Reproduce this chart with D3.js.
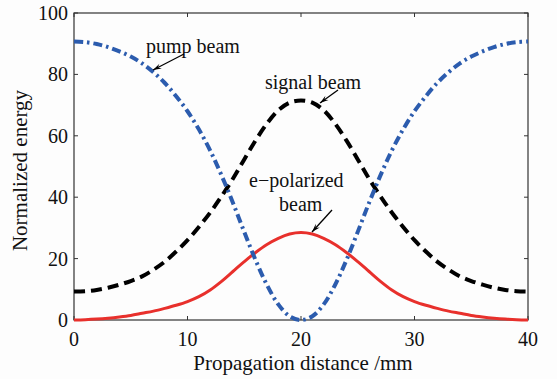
<!DOCTYPE html>
<html><head><meta charset="utf-8">
<script src="https://cdn.jsdelivr.net/npm/d3@7"></script>
<style>body{margin:0;background:#fdfdfd}svg{display:block}
text{font-family:"Liberation Serif","DejaVu Serif","Noto Serif",serif;}</style>
</head><body>
<svg id="c" width="557" height="379"></svg>
<script>
const distance = d3.range(0,41,1);
const pump   = [90.7,90.5,89.9,88.9,87.5,85.8,83.6,80.7,77.2,72.9,68,62.1,55.2,47.1,38.2,28.7,19.5,11.4,5.1,1.2,0,
                1.2,5.1,11.4,19.5,28.7,38.2,47.1,55.2,62.1,68,72.9,77.2,80.7,83.6,85.8,87.5,88.9,89.9,90.5,90.7];
const signal = [9.3,9.4,9.8,10.5,11.5,12.7,14.2,16.4,19,22.3,26,30.3,35,40.3,46,52.3,58.5,64,68.3,70.8,71.5,
                70.8,68.3,64,58.5,52.3,46,40.3,35,30.3,26,22.3,19,16.4,14.2,12.7,11.5,10.5,9.8,9.4,9.3];
const epol   = [0,0.1,0.3,0.6,1,1.5,2.2,2.9,3.8,4.8,6,7.6,9.8,12.6,15.8,19,22,24.6,26.6,28,28.5,
                28,26.6,24.6,22,19,15.8,12.6,9.8,7.6,6,4.8,3.8,2.9,2.2,1.5,1,0.6,0.3,0.1,0];
const xTicks = [0,10,20,30,40];
const yTicks = [0,20,40,60,80,100];

const svg = d3.select('#c');
const L=74,R=528,T=13,B=320;
const x = d3.scaleLinear().domain([0,40]).range([L,R]);
const y = d3.scaleLinear().domain([0,100]).range([B,T]);

const g = svg.append('g');
g.append('rect').attr('x',L).attr('y',T).attr('width',R-L).attr('height',B-T)
 .attr('fill','none').attr('stroke','#333').attr('stroke-width',1.2);
const tk = 4;
xTicks.forEach(t=>{
  g.append('line').attr('x1',x(t)).attr('x2',x(t)).attr('y1',B).attr('y2',B-tk).attr('stroke','#333');
  g.append('line').attr('x1',x(t)).attr('x2',x(t)).attr('y1',T).attr('y2',T+tk).attr('stroke','#333');
  g.append('text').attr('x',x(t)).attr('y',346).attr('text-anchor','middle')
   .style('font-size','20px').attr('fill','#111').text(t);
});
yTicks.forEach(t=>{
  g.append('line').attr('x1',L).attr('x2',L+tk).attr('y1',y(t)).attr('y2',y(t)).attr('stroke','#333');
  g.append('line').attr('x1',R).attr('x2',R-tk).attr('y1',y(t)).attr('y2',y(t)).attr('stroke','#333');
  g.append('text').attr('x',68).attr('y',y(t)).attr('dy','0.35em').attr('text-anchor','end')
   .style('font-size','20px').attr('fill','#111').text(t);
});
g.append('text').attr('x',(L+R)/2+2).attr('y',370).attr('text-anchor','middle')
 .style('font-size','21px').attr('fill','#111').text('Propagation distance /mm');
g.append('text').attr('transform','translate(27,'+((T+B)/2+4)+') rotate(-90)').attr('text-anchor','middle')
 .style('font-size','21px').attr('fill','#111').text('Normalized energy');

const line = vals => d3.line().x((d,i)=>x(distance[i])).y(d=>y(d)).curve(d3.curveCatmullRom.alpha(0.5))(vals);
svg.append('path').attr('d',line(epol)).attr('fill','none').attr('stroke','#e8302c').attr('stroke-width',3);
svg.append('path').attr('d',line(signal)).attr('fill','none').attr('stroke','#000').attr('stroke-width',4)
 .attr('stroke-dasharray','11,6');
svg.append('path').attr('d',line(pump)).attr('fill','none').attr('stroke','#2c5cae').attr('stroke-width',4)
 .attr('stroke-dasharray','9,4,2.5,4');

function arrow(x1,y1,x2,y2){
  svg.append('line').attr('x1',x1).attr('y1',y1).attr('x2',x2).attr('y2',y2).attr('stroke','#000').attr('stroke-width',1.3);
  const a=Math.atan2(y2-y1,x2-x1), h=9, w=0.3;
  const p=[[x2,y2],[x2-h*Math.cos(a-w),y2-h*Math.sin(a-w)],[x2-h*0.6*Math.cos(a),y2-h*0.6*Math.sin(a)],[x2-h*Math.cos(a+w),y2-h*Math.sin(a+w)]];
  svg.append('path').attr('d','M'+p.map(q=>q.join(',')).join('L')+'Z').attr('fill','#000');
}
const ann = (tx,ty,s)=>svg.append('text').attr('x',tx).attr('y',ty).style('font-size','20px').attr('fill','#111').text(s);
ann(146,53,'pump beam');
arrow(184,54,153,70);
ann(265,89,'signal beam');
arrow(338,90,320,103);
ann(249,187,'e\u2212polarized');
ann(279,211,'beam');
arrow(332,210,312,232);
</script>
</body></html>
